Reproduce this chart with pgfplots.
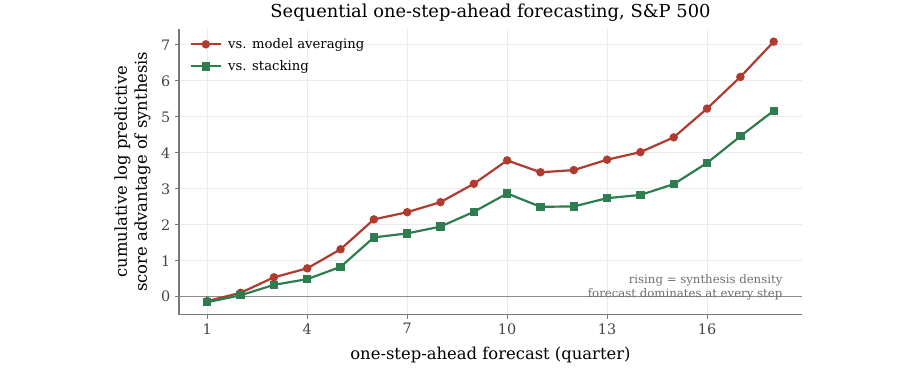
\documentclass[border=0pt]{standalone}
\usepackage{fontspec}
\setmainfont{DejaVu Serif}
\usepackage{pgfplots}
\pgfplotsset{compat=1.18}

\definecolor{avgred}{RGB}{176,58,46}
\definecolor{stackgreen}{RGB}{46,125,79}
\definecolor{spinegray}{RGB}{120,120,120}
\definecolor{gridgray}{RGB}{235,235,235}
\definecolor{ticktext}{RGB}{68,68,68}
\definecolor{notegray}{RGB}{110,110,110}

% cumulative log predictive score advantage, per forecast step
\pgfplotstableread{
step avg   stack
1   -0.12 -0.15
2    0.11  0.04
3    0.54  0.33
4    0.79  0.49
5    1.32  0.83
6    2.15  1.65
7    2.35  1.76
8    2.63  1.95
9    3.14  2.36
10   3.79  2.87
11   3.46  2.50
12   3.52  2.51
13   3.81  2.74
14   4.02  2.83
15   4.43  3.13
16   5.23  3.72
17   6.11  4.46
18   7.09  5.17
}\scoretable

\begin{document}
\begin{tikzpicture}
\useasboundingbox (0,0) rectangle (681pt,293.25pt);
\begin{axis}[
  at={(134.25pt,57.2pt)}, anchor=south west,
  scale only axis, width=467.25pt, height=214.5pt,
  xmin=0.15, xmax=18.85, ymin=-0.5, ymax=7.45,
  axis x line*=bottom, axis y line*=left,
  axis line style={-, spinegray, line width=1.1pt},
  xtick={1,4,7,10,13,16}, ytick={0,1,...,7},
  tick align=outside, major tick length=3pt,
  tick style={spinegray, line width=0.75pt},
  grid=major, major grid style={gridgray, line width=0.75pt},
  /pgf/number format/assume math mode=true,
  ticklabel style={font=\fontsize{10.8}{12}\selectfont, text=ticktext},
  xlabel={one-step-ahead forecast (quarter)},
  ylabel={cumulative log predictive\\score advantage of synthesis},
  label style={font=\fontsize{12.3}{15}\selectfont},
  xlabel style={yshift=-2.5pt},
  ylabel style={align=center, yshift=1pt},
  title={Sequential one-step-ahead forecasting, S\&P 500},
  title style={font=\fontsize{13.4}{16}\selectfont, yshift=-4pt},
  legend style={at={(0,1)}, anchor=north west, xshift=5pt, yshift=-3pt,
    draw=none, fill=none, font=\fontsize{9.9}{11}\selectfont,
    row sep=3.5pt, cells={anchor=west}},
  legend image code/.code={
    \draw[mark repeat=2, mark phase=2] plot coordinates {(0cm,0cm) (0.39cm,0cm) (0.78cm,0cm)};
    \path (0.88cm,0cm);},
]
\addplot[spinegray!85, line width=0.75pt, forget plot] coordinates {(0.15,0) (18.85,0)};
\addplot[avgred, line width=1.65pt, mark=*, mark size=2.3pt,
  mark options={solid}] table[x=step, y=avg] {\scoretable};
\addlegendentry{vs. model averaging}
\addplot[stackgreen, line width=1.65pt, mark=square*, mark size=2.3pt,
  mark options={solid}] table[x=step, y=stack] {\scoretable};
\addlegendentry{vs. stacking}
\node[anchor=east, align=right, inner sep=0pt, text=notegray,
  font=\fontsize{8.8}{10.5}\selectfont] at (axis cs:18.27,0.27)
  {rising = synthesis density\\forecast dominates at every step};
\end{axis}
\end{tikzpicture}
\end{document}
